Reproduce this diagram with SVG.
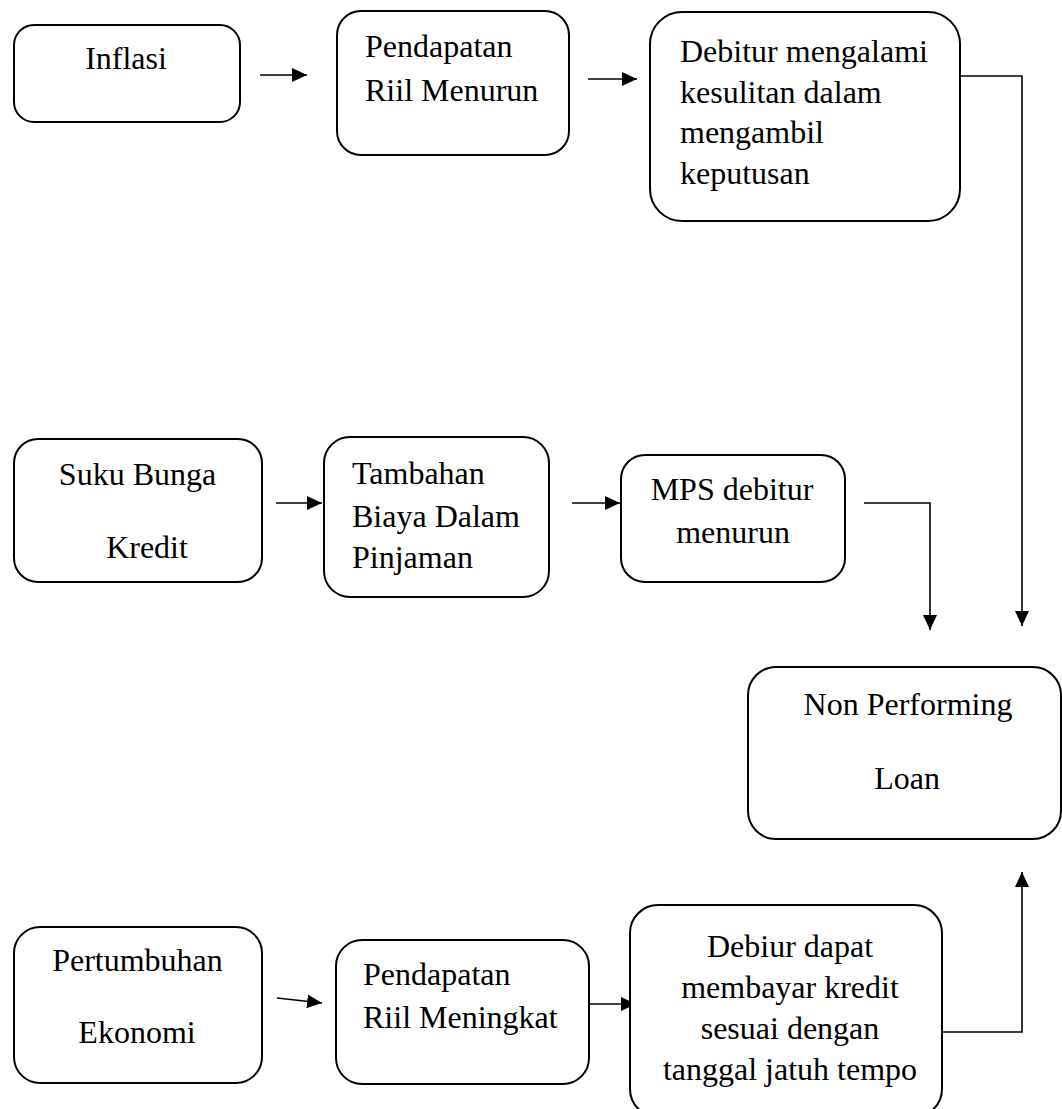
<svg xmlns="http://www.w3.org/2000/svg" width="1062" height="1109" viewBox="0 0 1062 1109">
<style>
.box{fill:#fff;stroke:#000;stroke-width:2}
.t{font-family:"Liberation Serif","Times New Roman",serif;font-size:32px;fill:#000}
.c{text-anchor:middle}
.ln{fill:none;stroke:#000;stroke-width:1.6}
</style>
<defs>
<marker id="ah" markerUnits="userSpaceOnUse" markerWidth="16" markerHeight="14" refX="15" refY="7" orient="auto">
<path d="M0,0 L15,7 L0,14 z" fill="#000"/>
</marker>
</defs>
<rect width="1062" height="1109" fill="#fff"/>
<g id="connectors">
<path class="ln" d="M260,75 H307" marker-end="url(#ah)"/>
<path class="ln" d="M588,79 H637" marker-end="url(#ah)"/>
<path class="ln" d="M961,76 H1022 V626" marker-end="url(#ah)"/>
<path class="ln" d="M276,503 H322" marker-end="url(#ah)"/>
<path class="ln" d="M572,503 H620" marker-end="url(#ah)"/>
<path class="ln" d="M864,503 H930 V630" marker-end="url(#ah)"/>
<path class="ln" d="M277,998 L322,1003" marker-end="url(#ah)"/>
<path class="ln" d="M589,1004 H636" marker-end="url(#ah)"/>
<path class="ln" d="M942,1032 H1022 V872" marker-end="url(#ah)"/>
</g>
<g id="inflasi">
<rect class="box" x="14" y="25" width="226" height="97" rx="20"/>
<text class="t c" x="126" y="69">Inflasi</text>
</g>
<g id="pendapatan-menurun">
<rect class="box" x="337" y="11" width="232" height="144" rx="24"/>
<text class="t" x="365" y="57">Pendapatan</text>
<text class="t" x="365" y="101">Riil Menurun</text>
</g>
<g id="debitur-kesulitan">
<rect class="box" x="650" y="12" width="310" height="209" rx="32"/>
<text class="t" x="680" y="62">Debitur mengalami</text>
<text class="t" x="680" y="103">kesulitan dalam</text>
<text class="t" x="680" y="143">mengambil</text>
<text class="t" x="680" y="184">keputusan</text>
</g>
<g id="suku-bunga">
<rect class="box" x="14" y="439" width="248" height="143" rx="24"/>
<text class="t c" x="137.5" y="485">Suku Bunga</text>
<text class="t c" x="147" y="558">Kredit</text>
</g>
<g id="tambahan-biaya">
<rect class="box" x="324" y="437" width="225" height="160" rx="26"/>
<text class="t" x="352" y="484">Tambahan</text>
<text class="t" x="352" y="527">Biaya Dalam</text>
<text class="t" x="352" y="568">Pinjaman</text>
</g>
<g id="mps-debitur">
<rect class="box" x="621" y="455" width="224" height="127" rx="24"/>
<text class="t c" x="732" y="500">MPS debitur</text>
<text class="t c" x="733" y="543">menurun</text>
</g>
<g id="npl">
<rect class="box" x="748" y="667" width="313" height="172" rx="28"/>
<text class="t c" x="908" y="715">Non Performing</text>
<text class="t c" x="907" y="789">Loan</text>
</g>
<g id="pertumbuhan">
<rect class="box" x="14" y="927" width="248" height="156" rx="26"/>
<text class="t c" x="137.5" y="971">Pertumbuhan</text>
<text class="t c" x="137" y="1043">Ekonomi</text>
</g>
<g id="pendapatan-meningkat">
<rect class="box" x="336" y="940" width="253" height="144" rx="26"/>
<text class="t" x="363" y="985">Pendapatan</text>
<text class="t" x="363" y="1028">Riil Meningkat</text>
</g>
<g id="debiur-membayar">
<rect class="box" x="630" y="905" width="312" height="212" rx="28"/>
<text class="t c" x="790" y="957">Debiur dapat</text>
<text class="t c" x="790" y="998">membayar kredit</text>
<text class="t c" x="790" y="1039">sesuai dengan</text>
<text class="t c" x="790" y="1080">tanggal jatuh tempo</text>
</g>
</svg>
